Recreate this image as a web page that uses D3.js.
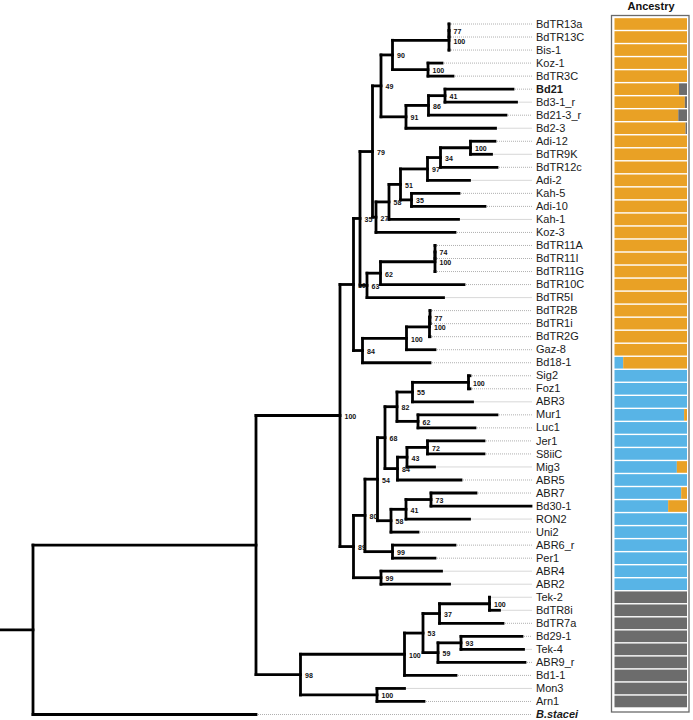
<!DOCTYPE html>
<html><head><meta charset="utf-8">
<script src="https://cdn.jsdelivr.net/npm/d3@7"></script>
<style>
body{margin:0;background:#fff}
svg{display:block}
text{font-family:"Liberation Sans",Arial,Helvetica,sans-serif}
</style>
</head><body>
<svg id="chart" width="693" height="720"></svg>
<script>
// ---------------- DATA ----------------
// Leaf order (top to bottom)
const leafNames = ["BdTR13a","BdTR13C","Bis-1","Koz-1","BdTR3C","Bd21","Bd3-1_r","Bd21-3_r","Bd2-3",
  "Adi-12","BdTR9K","BdTR12c","Adi-2","Kah-5","Adi-10","Kah-1","Koz-3","BdTR11A","BdTR11I","BdTR11G",
  "BdTR10C","BdTR5I","BdTR2B","BdTR1i","BdTR2G","Gaz-8","Bd18-1","Sig2","Foz1","ABR3","Mur1","Luc1",
  "Jer1","S8iiC","Mig3","ABR5","ABR7","Bd30-1","RON2","Uni2","ABR6_r","Per1","ABR4","ABR2","Tek-2",
  "BdTR8i","BdTR7a","Bd29-1","Tek-4","ABR9_r","Bd1-1","Mon3","Arn1","B.stacei"];
const boldLeaves = ["Bd21"];
const italicBoldLeaves = ["B.stacei"];

// Newick clades: branch lengths (x1e-4 subst./site), bootstrap supports as node labels
const cladeN90  = "(((BdTR13a:0,BdTR13C:0)77:0,Bis-1:0)100:56.5,(Koz-1:14,BdTR3C:25)100:35.5)90:11.5";
const cladeN91  = "(((Bd21:68,Bd3-1_r:71.5)41:16.5,Bd21-3_r:77.5)86:22.5,Bd2-3:89.5)91:25";
const cladeN27  = "((((((Adi-12:24.5,BdTR9K:21)100:30,BdTR12c:56.5)34:13,Adi-2:42)97:27,(Kah-5:47.5,Adi-10:73.5)35:11)51:11.5,Kah-1:69.5)58:13,Koz-3:79)27:3.5";
const cladeN62  = "(((BdTR11A:0,BdTR11I:0)74:0,BdTR11G:0)100:54.5,BdTR10C:83.5)62:13.5";
const cladeN84  = "((((BdTR2B:0,BdTR1i:0)77:0.5,BdTR2G:0.5)100:23,Gaz-8:28.5)100:44,Bd18-1:67.5)84:9";
const cladeN82  = "(((Sig2:1.5,Foz1:1.5)100:56,ABR3:60)55:15.5,(Mur1:79,Luc1:57)62:21)82:12";
const cladeN84b = "(((Jer1:56.5,S8iiC:56.5)72:20.5,Mig3:27.5)43:9.5,ABR5:63.5)84:12.5";
const cladeN58  = "(((ABR7:45,Bd30-1:100)73:25,RON2:63.5)41:15,Uni2:27)58:13.5";
const cladeN53  = "(((Tek-2:0,BdTR8i:10)100:50,BdTR7a:63.5)37:16.5,((Bd29-1:61,Tek-4:62.5)93:23,ABR9_r:87)59:15)53:18.5";

const cladeN79 = `((${cladeN90},${cladeN91})49:8.5,${cladeN27})79:12.5`;
const cladeN35 = `(${cladeN79},(${cladeN62},BdTR5I:76.5)63:7)35:6.5`;
const cladeN19 = `(${cladeN35},${cladeN84})19:13.5`;
const cladeN89 = `((((${cladeN82},${cladeN84b})68:7.5,${cladeN58})54:12.5,(ABR6_r:62.5,Per1:42.5)99:27.5)80:11.5,(ABR4:60.5,ABR2:68.5)99:27.5)89:13.5`;
const cladeN98 = `((${cladeN53},Bd1-1:51.5)100:104,(Mon3:27.5,Arn1:47)100:76.5)98:44.5`;
const treeNewick = `(((${cladeN19},${cladeN89})100:84,${cladeN98}):223,B.stacei:223):33;`;

// Ancestry proportions (rows = leafNames without B.stacei); stacking order: blue, orange, grey
const ancBlue = [0,0,0,0,0, 0,0,0,0, 0,0,0,0,0,0,0,0, 0,0,0,0,0, 0,0,0,0,0.12,
  1,1,1,0.96,1,1,1,0.86,1,0.92,0.74,1,1,1,1,1,1,
  0,0,0,0,0,0,0,0,0];
const ancOrange = [1,1,1,1,1, 0.89,0.97,0.88,0.98, 1,1,1,1,1,1,1,1, 1,1,1,1,1, 1,1,1,1,0.88,
  0,0,0,0.04,0,0,0,0.14,0,0.08,0.26,0,0,0,0,0,0,
  0,0,0,0,0,0,0,0,0];
const ancGrey = [0,0,0,0,0, 0.11,0.03,0.12,0.02, 0,0,0,0,0,0,0,0, 0,0,0,0,0, 0,0,0,0,0,
  0,0,0,0,0,0,0,0,0,0,0,0,0,0,0,0,0,
  1,1,1,1,1,1,1,1,1];
const ancColors = {blue:"#58B4E6", orange:"#E9A125", grey:"#6C6C6C"};

// ---------------- PARSE ----------------
function parseNewick(s){
  let i = 0;
  function node(){
    const n = {children:[]};
    if (s[i] === "("){
      i++;
      n.children.push(node());
      while (s[i] === ","){ i++; n.children.push(node()); }
      i++;
    }
    let name = "";
    while (i < s.length && !":,();".includes(s[i])) name += s[i++];
    n.name = name;
    n.length = 0;
    if (s[i] === ":"){
      i++; let num = "";
      while (i < s.length && !",();".includes(s[i])) num += s[i++];
      n.length = +num;
    }
    if (!n.children.length) delete n.children;
    return n;
  }
  return node();
}

const root = d3.hierarchy(parseNewick(treeNewick));
root.each(d => { d.dist = (d.parent ? d.parent.dist : 0) + d.data.length; });
const maxDist = d3.max(root.leaves(), d => d.dist);

// ---------------- SCALES ----------------
const svg = d3.select("#chart");
const x = d3.scaleLinear().domain([0, maxDist]).range([0, 531]);
const y = d3.scalePoint().domain(leafNames).range([24, 714.5]);
const step = y.step();

root.eachAfter(d => {
  if (d.children) d.y = (d.children[0].y + d.children[d.children.length-1].y) / 2;
  else d.y = y(d.data.name);
  d.x = x(d.dist);
});

// ---------------- TREE ----------------
const gTree = svg.append("g");
// leader dotted lines
gTree.selectAll("line.lead").data(root.leaves().filter(d => d.x < 528))
  .join("line").attr("class","lead")
  .attr("x1", d => d.x + 2).attr("x2", 532)
  .attr("y1", d => d.y).attr("y2", d => d.y)
  .attr("stroke","#9c9c9c").attr("stroke-width",0.8).attr("stroke-dasharray","1,1");

const strokeW = 2.8;
// root stub
gTree.append("line")
  .attr("x1", x(0)).attr("x2", root.x).attr("y1", root.y).attr("y2", root.y)
  .attr("stroke","#000").attr("stroke-width",strokeW).attr("stroke-linecap","square");
// horizontal branches
gTree.selectAll("line.h").data(root.descendants().filter(d => d.parent))
  .join("line").attr("class","h")
  .attr("x1", d => d.parent.x).attr("x2", d => d.x)
  .attr("y1", d => d.y).attr("y2", d => d.y)
  .attr("stroke","#000").attr("stroke-width",strokeW).attr("stroke-linecap","square");
// vertical connectors
gTree.selectAll("line.v").data(root.descendants().filter(d => d.children))
  .join("line").attr("class","v")
  .attr("x1", d => d.x).attr("x2", d => d.x)
  .attr("y1", d => d.children[0].y).attr("y2", d => d.children[d.children.length-1].y)
  .attr("stroke","#000").attr("stroke-width",strokeW).attr("stroke-linecap","square");

// support values
gTree.selectAll("text.sup").data(root.descendants().filter(d => d.children && d.data.name))
  .join("text").attr("class","sup")
  .attr("transform", d => `translate(${d.x + 4.5},${d.y + 3.4}) scale(1.02,1)`)
  .attr("font-size", 6.9).attr("font-weight","bold").attr("fill","#111")
  .text(d => d.data.name);

// leaf labels
svg.append("g").selectAll("text").data(leafNames).join("text")
  .attr("transform", d => `translate(536,${y(d) + 3.6}) scale(1.1,1)`)
  .attr("font-size", 10)
  .attr("fill", "#1a1a1a")
  .attr("font-weight", d => (boldLeaves.includes(d) || italicBoldLeaves.includes(d)) ? "bold" : "normal")
  .attr("font-style", d => italicBoldLeaves.includes(d) ? "italic" : "normal")
  .text(d => d);

// ---------------- ANCESTRY ----------------
const ancRows = leafNames.slice(0, ancBlue.length);
const xa = d3.scaleLinear().domain([0,1]).range([614.5, 687]);
const gA = svg.append("g");
gA.append("rect").attr("x",611.5).attr("y",15.5).attr("width",77.5).attr("height",696.5)
  .attr("fill","#fff").attr("stroke","#6a6a6a").attr("stroke-width",1.3);
const barH = step - 1.4;
const stacks = ancRows.map((name,i) => {
  const parts = [["blue",ancBlue[i]],["orange",ancOrange[i]],["grey",ancGrey[i]]];
  let acc = 0;
  return parts.map(([k,v]) => { const s = {name, key:k, x0:acc, x1:acc+v}; acc += v; return s; });
}).flat().filter(s => s.x1 > s.x0);
gA.selectAll("rect.bar").data(stacks).join("rect").attr("class","bar")
  .attr("x", d => xa(d.x0)).attr("width", d => xa(Math.min(d.x1,1)) - xa(d.x0))
  .attr("y", d => y(d.name) - barH/2).attr("height", barH)
  .attr("fill", d => ancColors[d.key]);

svg.append("text").attr("transform","translate(651,9.5) scale(1.1,1)")
  .attr("text-anchor","middle").attr("font-size",10).attr("font-weight","bold")
  .attr("fill","#111").text("Ancestry");
</script>
</body></html>
